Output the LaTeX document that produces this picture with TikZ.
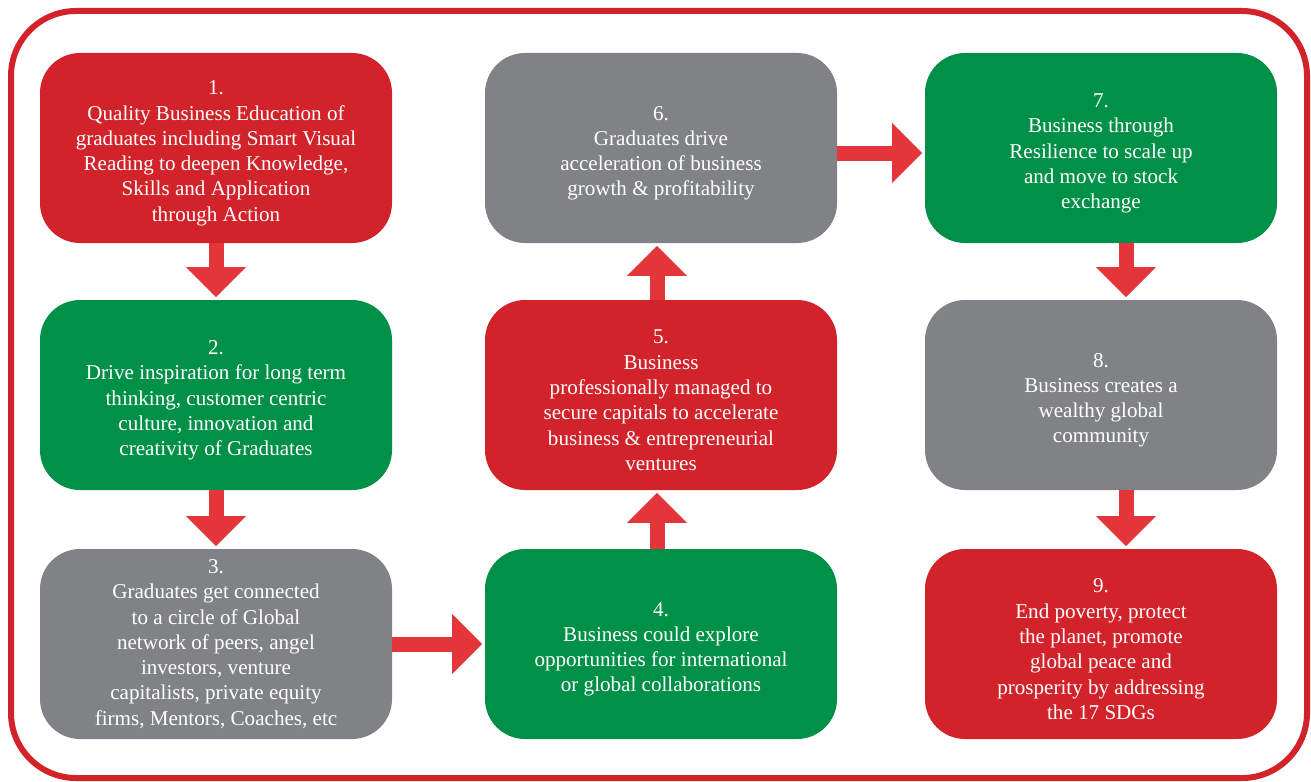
\documentclass[tikz,border=0pt]{standalone}
\usepackage{fontspec}
\setmainfont{Liberation Serif}
\usetikzlibrary{arrows.meta}
\definecolor{rojo}{HTML}{D2232A}
\definecolor{rojoflecha}{HTML}{E4363A}
\definecolor{verde}{HTML}{009048}
\definecolor{gris}{HTML}{808285}
\newcommand{\alto}{\rule{0pt}{14pt}}
\begin{document}
\begin{tikzpicture}[
        paso/.style={rounded corners=0.8cm, align=center, minimum width=7.04cm, minimum height=3.8cm, text=white, font=\fontsize{12}{14.4}\selectfont},
        avance/.style={line width=0.3cm, rojoflecha, shorten >=0.05cm, -{Triangle[length=0.6cm, width=1.16cm]}}]
        \useasboundingbox (0,0) rectangle (26.22,-15.62);
        \draw[rojo, line width=0.12cm, rounded corners=1.3cm] (0.22,-0.22) rectangle (26.14,-15.56);
        \node[paso, fill=rojo]  (p1) at (4.32,-2.96)   {\alto 1.\\Quality Business Education of\\graduates including Smart Visual\\Reading to deepen Knowledge,\\Skills and Application\\through Action};
        \node[paso, fill=verde] (p2) at (4.32,-7.90)   {\alto 2.\\Drive inspiration for long term\\thinking, customer centric\\culture, innovation and\\creativity of Graduates};
        \node[paso, fill=gris]  (p3) at (4.32,-12.88)  {3.\\Graduates get connected\\to a circle of Global\\network of peers, angel\\investors, venture\\capitalists, private equity\\firms, Mentors, Coaches, etc};
        \node[paso, fill=verde] (p4) at (13.22,-12.88) {\alto 4.\\Business could explore\\opportunities for international\\or global collaborations};
        \node[paso, fill=rojo]  (p5) at (13.22,-7.90)  {\alto 5.\\Business\\professionally managed to\\secure capitals to accelerate\\business \& entrepreneurial\\ventures};
        \node[paso, fill=gris]  (p6) at (13.22,-2.96)  {\alto 6.\\Graduates drive\\acceleration of business\\growth \& profitability};
        \node[paso, fill=verde] (p7) at (22.02,-2.96)  {\alto 7.\\Business through\\Resilience to scale up\\and move to stock\\exchange};
        \node[paso, fill=gris]  (p8) at (22.02,-7.90)  {\alto 8.\\Business creates a\\wealthy global\\community};
        \node[paso, fill=rojo]  (p9) at (22.02,-12.88) {\alto 9.\\End poverty, protect\\the planet, promote\\global peace and\\prosperity by addressing\\the 17 SDGs};
        \draw[avance] (p1.south) -- (p2.north);
        \draw[avance] (p2.south) -- (p3.north);
        \draw[avance] (p3.east) -- (p4.west);
        \draw[avance] ([xshift=-0.08cm]p4.north) -- ([xshift=-0.08cm]p5.south);
        \draw[avance] ([xshift=-0.08cm]p5.north) -- ([xshift=-0.08cm]p6.south);
        \draw[avance] ([yshift=-0.1cm]p6.east) -- ([yshift=-0.1cm]p7.west);
        \draw[avance] ([xshift=0.5cm]p7.south) -- ([xshift=0.5cm]p8.north);
        \draw[avance] ([xshift=0.5cm]p8.south) -- ([xshift=0.5cm]p9.north);
    \end{tikzpicture}
\end{document}
